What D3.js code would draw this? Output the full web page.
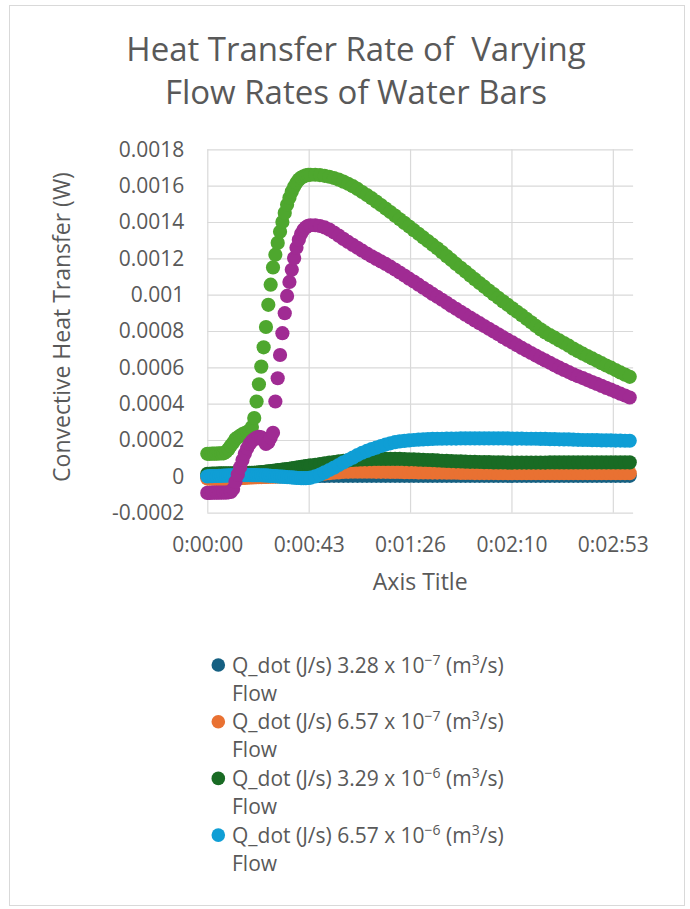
<!DOCTYPE html>
<html>
<head>
<meta charset="utf-8">
<script src="https://cdn.jsdelivr.net/npm/d3@7"></script>
<style>
  body { margin: 0; background: #ffffff; }
  text { font-family: "Open Sans", sans-serif; fill: #595959; }
</style>
</head>
<body>
<div id="chart"></div>
<script>
// time of each reading (s): every second during the warm-up, then every 2 s
var seconds = [0, 1, 2, 3, 4, 5, 6, 7, 8, 9, 10, 11, 12, 13, 14, 15, 16, 17, 18, 19,
  20, 21, 22, 23, 24, 25, 26, 27, 28, 29, 30, 31, 32, 33, 34, 35, 36, 37, 38, 39,
  40, 41, 42, 43, 44,
  46, 48, 50, 52, 54, 56, 58, 60, 62, 64,
  66, 68, 70, 72, 74, 76, 78, 80, 82, 84,
  86, 88, 90, 92, 94, 96, 98, 100, 102, 104,
  106, 108, 110, 112, 114, 116, 118, 120, 122, 124,
  126, 128, 130, 132, 134, 136, 138, 140, 142, 144,
  146, 148, 150, 152, 154, 156, 158, 160, 162, 164,
  166, 168, 170, 172, 174, 176, 178, 180];

// Q_dot values in microwatts, one array per flow rate
var qFlow328e7 = [-2, -2, -2, -2, -1, -1, -1, -1, -1, -1,
  -1, 0, 0, 0, 0, 0, 0, 0, 0, 1,
  1, 1, 1, 1, 1, 1, 1, 1, 1, 1,
  1, 1, 1, 1, 1, 1, 2, 2, 2, 2, 2, 2, 2, 2, 2,
  2, 2, 2, 3, 3, 3, 3, 3, 3, 3,
  3, 3, 3, 3, 3, 3, 3, 3, 3, 3,
  3, 3, 3, 3, 3, 3, 3, 3, 3, 3,
  3, 3, 3, 3, 3, 3, 3, 3, 3, 3,
  3, 3, 3, 3, 3, 3, 3, 3, 3, 3,
  3, 3, 3, 3, 3, 3, 3, 3, 3, 3,
  3, 3, 3, 3, 3, 3, 3, 3];

var qFlow657e7 = [-12, -12, -13, -13, -14, -14, -15, -15, -15, -15,
  -14, -13, -12, -11, -10, -9, -8, -7, -6, -6,
  -5, -5, -4, -4, -3, -3, -2, -2, -1, -1,
  0, 0, 1, 1, 1, 2, 2, 2, 3, 3, 4, 4, 5, 6, 7,
  9, 12, 15, 17, 20, 22, 24, 25, 26, 26,
  26, 26, 26, 25, 25, 25, 24, 24, 24, 23,
  23, 23, 22, 22, 22, 21, 21, 21, 20, 20,
  20, 19, 19, 19, 18, 18, 18, 18, 18, 17,
  17, 17, 17, 17, 17, 17, 17, 17, 17, 17,
  17, 17, 17, 17, 17, 17, 17, 17, 17, 17,
  17, 17, 17, 17, 17, 17, 17, 17];

var qFlow329e6 = [14, 14, 15, 15, 15, 16, 16, 16, 17, 17,
  17, 17, 18, 18, 18, 18, 19, 19, 19, 20,
  20, 21, 22, 23, 24, 26, 27, 29, 30, 32,
  34, 35, 37, 39, 40, 42, 44, 46, 48, 50, 52, 54, 56, 58, 60,
  64, 68, 72, 76, 79, 83, 86, 88, 90, 92,
  93, 94, 95, 96, 96, 96, 96, 96, 96, 95,
  94, 94, 92, 91, 90, 89, 88, 86, 85, 84,
  83, 82, 81, 80, 80, 79, 78, 78, 77, 77,
  77, 76, 76, 76, 76, 76, 76, 76, 76, 76,
  77, 77, 77, 77, 77, 77, 77, 77, 77, 77,
  77, 77, 77, 77, 77, 77, 77, 77];

var qFlow657e6 = [0, 1, 1, 2, 2, 3, 3, 4, 4, 5,
  5, 5, 6, 6, 6, 7, 7, 7, 7, 7,
  7, 7, 6, 6, 5, 5, 4, 3, 2, 1,
  0, -1, -2, -3, -4, -5, -6, -7, -8, -9, -10, -10, -10, -9, -7,
  0, 10, 22, 35, 48, 62, 77, 90, 103, 117,
  130, 140, 150, 158, 167, 175, 182, 188, 192, 195,
  198, 200, 202, 203, 205, 206, 207, 207, 208, 208,
  208, 209, 209, 209, 209, 209, 209, 209, 209, 209,
  209, 209, 208, 208, 208, 207, 207, 207, 206, 206,
  205, 205, 204, 203, 203, 202, 201, 200, 200, 199,
  199, 198, 198, 198, 197, 197, 196, 196];

// the two series without a legend entry
var qGreen = [124, 124, 125, 125, 125, 126, 126, 127, 135, 150,
  168, 185, 205, 215, 224, 232, 238, 244, 252, 272,
  321, 412, 507, 604, 710, 822, 944, 1055, 1150, 1220,
  1285, 1346, 1400, 1450, 1495, 1533, 1567, 1594, 1616, 1633, 1644, 1651, 1656, 1659, 1660,
  1660, 1658, 1654, 1649, 1642, 1633, 1622, 1610, 1597, 1582,
  1565, 1548, 1531, 1512, 1493, 1474, 1455, 1435, 1415, 1395,
  1375, 1355, 1335, 1315, 1295, 1275, 1255, 1234, 1212, 1191,
  1169, 1148, 1127, 1106, 1085, 1064, 1044, 1023, 1003, 983,
  963, 944, 925, 906, 887, 867, 848, 828, 809, 792,
  777, 763, 748, 734, 719, 703, 689, 675, 662, 649,
  636, 623, 610, 598, 585, 572, 560, 548];

var qPurple = [-91, -91, -90, -90, -90, -90, -89, -89, -89, -88,
  -86, -70, -30, 10, 50, 90, 125, 155, 178, 195,
  205, 213, 218, 215, 198, 178, 188, 212, 240, 412,
  540, 668, 788, 898, 993, 1070, 1137, 1201, 1258, 1302, 1335, 1357, 1371, 1379, 1382,
  1382, 1378, 1370, 1358, 1342, 1325, 1307, 1290, 1274, 1258,
  1242, 1226, 1211, 1197, 1183, 1169, 1154, 1138, 1122, 1105,
  1088, 1072, 1055, 1038, 1021, 1004, 988, 972, 955, 938,
  922, 906, 890, 874, 858, 843, 827, 812, 797, 782,
  766, 751, 737, 722, 707, 693, 679, 665, 651, 638,
  625, 611, 598, 586, 574, 562, 551, 541, 530, 519,
  509, 498, 487, 477, 466, 455, 445, 434];

var xTicks = [0, 43.2, 86.4, 129.6, 172.8];
var xTickLabels = ["0:00:00", "0:00:43", "0:01:26", "0:02:10", "0:02:53"];
var yTicks = [-0.0002, 0, 0.0002, 0.0004, 0.0006, 0.0008, 0.001, 0.0012, 0.0014, 0.0016, 0.0018];

var legendCoef = ["3.28", "6.57", "3.29", "6.57"];
var legendExp = ["\u22127", "\u22127", "\u22126", "\u22126"];

var seriesList = [
  { values: qFlow328e7, color: "#156082" },
  { values: qFlow657e7, color: "#E97132" },
  { values: qFlow329e6, color: "#196B24" },
  { values: qFlow657e6, color: "#0F9ED5" },
  { values: qGreen, color: "#4EA72E" },
  { values: qPurple, color: "#A02B93" }
];

var svgWidth = 690;
var svgHeight = 909;

var plot = { left: 207.3, right: 633.1, top: 149.3, bottom: 512.7 };

var svg = d3.select("#chart")
  .append("svg")
  .attr("width", svgWidth)
  .attr("height", svgHeight);

// chart border
svg.append("rect")
  .attr("x", 9.5)
  .attr("y", 5.5)
  .attr("width", 675)
  .attr("height", 900)
  .attr("fill", "#ffffff")
  .attr("stroke", "#d9d9d9")
  .attr("stroke-width", 1);

var xScale = d3.scaleLinear()
  .domain([0, 181.44])
  .range([plot.left, plot.right]);

var yScale = d3.scaleLinear()
  .domain([-0.0002, 0.0018])
  .range([plot.bottom, plot.top]);

// y gridlines + labels
svg.append("g")
  .attr("transform", `translate(${plot.left}, 0)`)
  .call(d3.axisLeft(yScale)
    .tickValues(yTicks)
    .tickSize(-(plot.right - plot.left))
    .tickPadding(23)
    .tickFormat(d => String(+d.toFixed(4))));

// x gridlines + labels
svg.append("g")
  .attr("transform", `translate(0, ${plot.bottom})`)
  .call(d3.axisBottom(xScale)
    .tickValues(xTicks)
    .tickSize(-(plot.bottom - plot.top))
    .tickPadding(24)
    .tickFormat((d, i) => xTickLabels[i]));

svg.selectAll(".domain").remove();
svg.selectAll(".tick line")
  .attr("stroke", "#d9d9d9")
  .attr("stroke-width", 1.2);
svg.selectAll(".tick text")
  .attr("fill", "#595959")
  .style("font-size", "21px");

// markers
seriesList.forEach(function(s) {
  svg.append("g")
    .selectAll("circle")
    .data(d3.zip(seconds, s.values))
    .enter()
    .append("circle")
    .attr("cx", d => xScale(d[0]))
    .attr("cy", d => yScale(d[1] * 1e-6))
    .attr("r", 7.1)
    .attr("fill", s.color);
});

// title (keeps the double space)
var title = svg.append("text")
  .attr("text-anchor", "middle")
  .style("font-size", "33px")
  .style("white-space", "pre");
title.append("tspan").attr("x", 356).attr("y", 61).text("Heat Transfer Rate of  Varying");
title.append("tspan").attr("x", 356).attr("y", 104).text("Flow Rates of Water Bars");

// axis titles
svg.append("text")
  .attr("x", (plot.left + plot.right) / 2)
  .attr("y", 590)
  .attr("text-anchor", "middle")
  .style("font-size", "23px")
  .text("Axis Title");

svg.append("text")
  .attr("transform", "translate(70, 327) rotate(-90)")
  .attr("text-anchor", "middle")
  .style("font-size", "23px")
  .text("Convective Heat Transfer (W)");

// legend (only the first four series are listed)
var legend = svg.append("g");
legendCoef.forEach(function(coef, i) {
  var cy = 665 + i * 56.7;
  legend.append("circle")
    .attr("cx", 218.3)
    .attr("cy", cy)
    .attr("r", 6.8)
    .attr("fill", seriesList[i].color);

  var line = legend.append("text")
    .attr("x", 232)
    .attr("y", cy + 7.5)
    .style("font-size", "21px");
  line.append("tspan").text("Q_dot (J/s) " + coef + " x 10");
  line.append("tspan").attr("dy", -8).style("font-size", "14px").text(legendExp[i]);
  line.append("tspan").attr("dy", 8).style("font-size", "21px").text(" (m");
  line.append("tspan").attr("dy", -8).style("font-size", "14px").text("3");
  line.append("tspan").attr("dy", 8).style("font-size", "21px").text("/s)");

  legend.append("text")
    .attr("x", 232)
    .attr("y", cy + 35.5)
    .style("font-size", "21px")
    .text("Flow");
});
</script>
</body>
</html>
